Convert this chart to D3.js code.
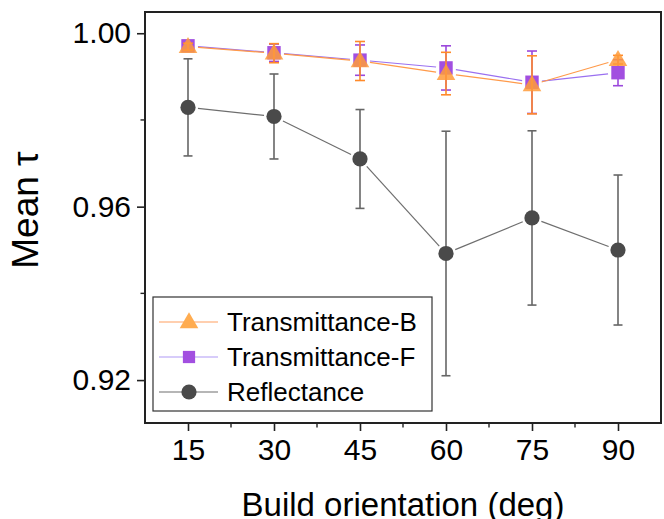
<!DOCTYPE html>
<html>
<head>
<meta charset="utf-8">
<script src="https://d3js.org/d3.v7.min.js"></script>
<style>
  body { margin: 0; background: #fff; }
  text { font-family: "Liberation Sans", Arial, sans-serif; fill: #000; }
</style>
</head>
<body>
<svg id="chart"></svg>
<script>
// data
var angles = [15, 30, 45, 60, 75, 90];
var transB = [0.9969, 0.9954, 0.9936, 0.9907, 0.9881, 0.9939];
var transBErr = [0.0008, 0.0022, 0.0045, 0.0049, 0.0067, 0.0010];
var transF = [0.9971, 0.9955, 0.9938, 0.9920, 0.9887, 0.9909];
var transFErr = [0.0006, 0.0020, 0.0035, 0.0051, 0.0072, 0.0030];
var refl = [0.9829, 0.9808, 0.9710, 0.9492, 0.9574, 0.9500];
var reflErr = [0.0112, 0.0098, 0.0114, 0.0282, 0.0201, 0.0173];
var xTicks = [15, 30, 45, 60, 75, 90];
var yTicks = [0.92, 0.96, 1.00];
var seriesNames = ["Transmittance-B", "Transmittance-F", "Reflectance"];

function drawChart() {
    var width = 664, height = 519;
    var left = 145, top = 12, right = 661, bottom = 423;
    var svg = d3.select("#chart").attr("width", width).attr("height", height);

    var x = d3.scaleLinear().domain([7.5, 97.5]).range([left, right]);
    var y = d3.scaleLinear().domain([0.9101, 1.0049]).range([bottom, top]);

    // axes, ticks outward
    var xAxis = d3.axisBottom(x).tickValues(xTicks).tickSize(8).tickPadding(8).tickFormat(d3.format("d"));
    var yAxis = d3.axisLeft(y).tickValues(yTicks).tickSize(8).tickPadding(6).tickFormat(d3.format(".2f"));
    var gx = svg.append("g").attr("transform", "translate(0," + bottom + ")").call(xAxis);
    var gy = svg.append("g").attr("transform", "translate(" + left + ",0)").call(yAxis);
    [gx, gy].forEach(function(g) {
        g.select(".domain").remove();
        g.selectAll(".tick line").attr("stroke", "#222").attr("stroke-width", 1.6);
        g.selectAll(".tick text").attr("font-size", 30).attr("fill", "#000");
    });
    // minor ticks
    svg.append("g").selectAll("line").data([22.5, 37.5, 52.5, 67.5, 82.5]).join("line")
        .attr("x1", function(d) { return x(d); }).attr("x2", function(d) { return x(d); })
        .attr("y1", bottom).attr("y2", bottom + 4.5)
        .attr("stroke", "#222").attr("stroke-width", 1.4);
    svg.append("g").selectAll("line").data([0.94, 0.98]).join("line")
        .attr("y1", function(d) { return y(d); }).attr("y2", function(d) { return y(d); })
        .attr("x1", left).attr("x2", left - 4.5)
        .attr("stroke", "#222").attr("stroke-width", 1.4);

    svg.append("rect").attr("x", left).attr("y", top)
        .attr("width", right - left).attr("height", bottom - top)
        .attr("fill", "none").attr("stroke", "#222").attr("stroke-width", 2);

    // axis titles
    svg.append("text").attr("x", (left + right) / 2).attr("y", 516)
        .attr("text-anchor", "middle").attr("font-size", 33).text("Build orientation (deg)");
    svg.append("text").attr("transform", "translate(38,210) rotate(-90)")
        .attr("text-anchor", "middle").attr("font-size", 37).text("Mean \u03c4");

    function gapLine(vals, color, gap) {
        var g = svg.append("g");
        for (var i = 0; i < vals.length - 1; i++) {
            var x1 = x(angles[i]), y1 = y(vals[i]), x2 = x(angles[i + 1]), y2 = y(vals[i + 1]);
            var len = Math.sqrt((x2 - x1) * (x2 - x1) + (y2 - y1) * (y2 - y1));
            var ux = (x2 - x1) / len, uy = (y2 - y1) / len;
            g.append("line")
                .attr("x1", x1 + ux * gap).attr("y1", y1 + uy * gap)
                .attr("x2", x2 - ux * gap).attr("y2", y2 - uy * gap)
                .attr("stroke", color).attr("stroke-width", 1.2);
        }
    }

    function errorBars(vals, errs, color, cap, sw) {
        var g = svg.append("g");
        angles.forEach(function(a, i) {
            var cx = x(a), yt = y(vals[i] + errs[i]), yb = y(vals[i] - errs[i]);
            g.append("line").attr("x1", cx).attr("x2", cx).attr("y1", yt).attr("y2", yb)
                .attr("stroke", color).attr("stroke-width", sw);
            g.append("line").attr("x1", cx - cap).attr("x2", cx + cap).attr("y1", yt).attr("y2", yt)
                .attr("stroke", color).attr("stroke-width", sw);
            g.append("line").attr("x1", cx - cap).attr("x2", cx + cap).attr("y1", yb).attr("y2", yb)
                .attr("stroke", color).attr("stroke-width", sw);
        });
    }

    var triangle = d3.symbol().type(d3.symbolTriangle).size(150);
    var square = d3.symbol().type(d3.symbolSquare).size(180);

    // Reflectance
    gapLine(refl, "#6e6e6e", 10);
    errorBars(refl, reflErr, "#666", 4.5, 1.6);
    svg.append("g").selectAll("circle").data(refl).join("circle")
        .attr("cx", function(d, i) { return x(angles[i]); })
        .attr("cy", function(d) { return y(d); })
        .attr("r", 7.6).attr("fill", "#4a4a4a");

    // Transmittance-F
    gapLine(transF, "#9a70f0", 10);
    errorBars(transF, transFErr, "#9b48dc", 5, 1.6);
    svg.append("g").selectAll("path").data(transF).join("path")
        .attr("d", square)
        .attr("transform", function(d, i) { return "translate(" + x(angles[i]) + "," + y(d) + ")"; })
        .attr("fill", "#a24fe0");

    // Transmittance-B
    gapLine(transB, "#ff9a4a", 10);
    errorBars(transB, transBErr, "#ff8a2a", 5, 1.6);
    svg.append("g").selectAll("path").data(transB).join("path")
        .attr("d", triangle)
        .attr("transform", function(d, i) { return "translate(" + x(angles[i]) + "," + (y(d) + 1) + ")"; })
        .attr("fill", "#ff9b3a").attr("fill-opacity", 0.85);

    // legend
    var lg = svg.append("g");
    lg.append("rect").attr("x", 153).attr("y", 297).attr("width", 279).attr("height", 114)
        .attr("fill", "#fff").attr("stroke", "#333").attr("stroke-width", 1.2);
    var rowsY = [322, 357, 392];
    var lineCols = ["#ffa060", "#b09af5", "#6e6e6e"];
    seriesNames.forEach(function(name, i) {
        var ry = rowsY[i];
        lg.append("line").attr("x1", 159).attr("x2", 218).attr("y1", ry).attr("y2", ry)
            .attr("stroke", lineCols[i]).attr("stroke-width", 1.2);
        if (i === 0) {
            lg.append("path").attr("d", triangle).attr("transform", "translate(189," + (ry + 1) + ")").attr("fill", "#ffac50");
        } else if (i === 1) {
            lg.append("path").attr("d", d3.symbol().type(d3.symbolSquare).size(150)).attr("transform", "translate(189," + ry + ")").attr("fill", "#a24fe0");
        } else {
            lg.append("circle").attr("cx", 189).attr("cy", ry).attr("r", 7.6).attr("fill", "#4a4a4a");
        }
        lg.append("text").attr("x", 227).attr("y", ry + 9).attr("font-size", 26).text(name);
    });
}

drawChart();
</script>
</body>
</html>
